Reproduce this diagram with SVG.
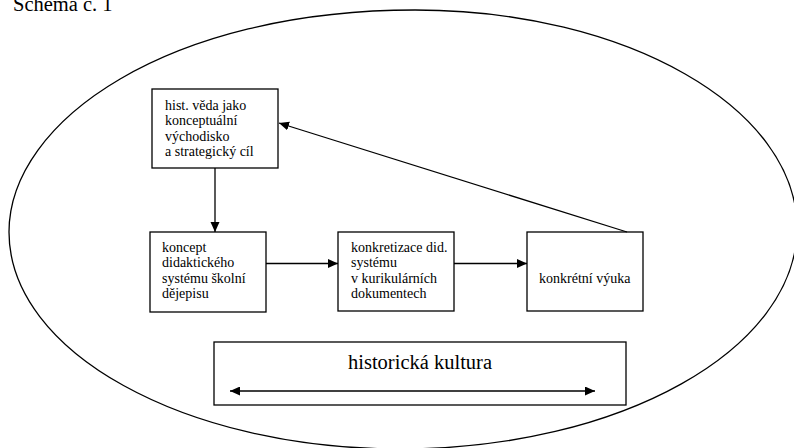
<svg xmlns="http://www.w3.org/2000/svg" width="794" height="448" viewBox="0 0 794 448">
<style>
  .box{fill:#fff;stroke:#000;stroke-width:1.3}
  .t{font-family:"Liberation Serif","Times New Roman",serif;font-size:14px;fill:#000}
  .big{font-family:"Liberation Serif","Times New Roman",serif;font-size:20.5px;fill:#000}
  .c{stroke:#000;stroke-width:1.3;fill:none}
</style>
<defs>
  <marker id="ah" markerUnits="userSpaceOnUse" markerWidth="11" markerHeight="10" refX="10" refY="4.5" orient="auto">
    <path d="M0,0 L10,4.5 L0,9 Z" fill="#000"/>
  </marker>
  <marker id="ahs" markerUnits="userSpaceOnUse" markerWidth="11" markerHeight="10" refX="0" refY="4.5" orient="auto">
    <path d="M10,0 L0,4.5 L10,9 Z" fill="#000"/>
  </marker>
</defs>
<rect width="794" height="448" fill="#fff"/>
<text class="big" x="13" y="11" font-size="21">Schéma č. 1</text>
<g id="ellipse">
  <path class="c" d="M9,232 C9,120 170,10 415,10 C626,10 797,108 797,228 C797,349 621,449 400,449 C184,449 9,352 9,232 Z"/>
</g>
<g id="n1">
  <rect class="box" x="152" y="89" width="126" height="79"/>
  <text class="t" x="165" y="109.5">hist. věda jako</text>
  <text class="t" x="165" y="125">konceptuální</text>
  <text class="t" x="165" y="140.5">východisko</text>
  <text class="t" x="165" y="156">a strategický cíl</text>
</g>
<g id="n2">
  <rect class="box" x="150" y="232" width="116" height="80"/>
  <text class="t" x="162" y="251.5">koncept</text>
  <text class="t" x="162" y="267">didaktického</text>
  <text class="t" x="162" y="282.5">systému školní</text>
  <text class="t" x="162" y="298">dějepisu</text>
</g>
<g id="n3">
  <rect class="box" x="338" y="232" width="116" height="79"/>
  <text class="t" x="351" y="251.5">konkretizace did.</text>
  <text class="t" x="351" y="267">systému</text>
  <text class="t" x="351" y="282.5">v kurikulárních</text>
  <text class="t" x="351" y="298">dokumentech</text>
</g>
<g id="n4">
  <rect class="box" x="527" y="232" width="116" height="79"/>
  <text class="t" x="539" y="283">konkrétní výuka</text>
</g>
<g id="n5">
  <rect class="box" x="214" y="342" width="412" height="63"/>
  <text class="big" x="420" y="368.5" text-anchor="middle">historická kultura</text>
</g>
<g id="connectors">
  <line class="c" x1="215" y1="168" x2="215" y2="232" marker-end="url(#ah)"/>
  <line class="c" x1="266" y1="263.5" x2="338" y2="263.5" marker-end="url(#ah)"/>
  <line class="c" x1="454" y1="263.5" x2="527" y2="263.5" marker-end="url(#ah)"/>
  <line class="c" x1="627" y1="232" x2="279" y2="123" marker-end="url(#ah)"/>
  <line class="c" x1="230" y1="391" x2="595" y2="391" marker-start="url(#ahs)" marker-end="url(#ah)"/>
</g>
</svg>
